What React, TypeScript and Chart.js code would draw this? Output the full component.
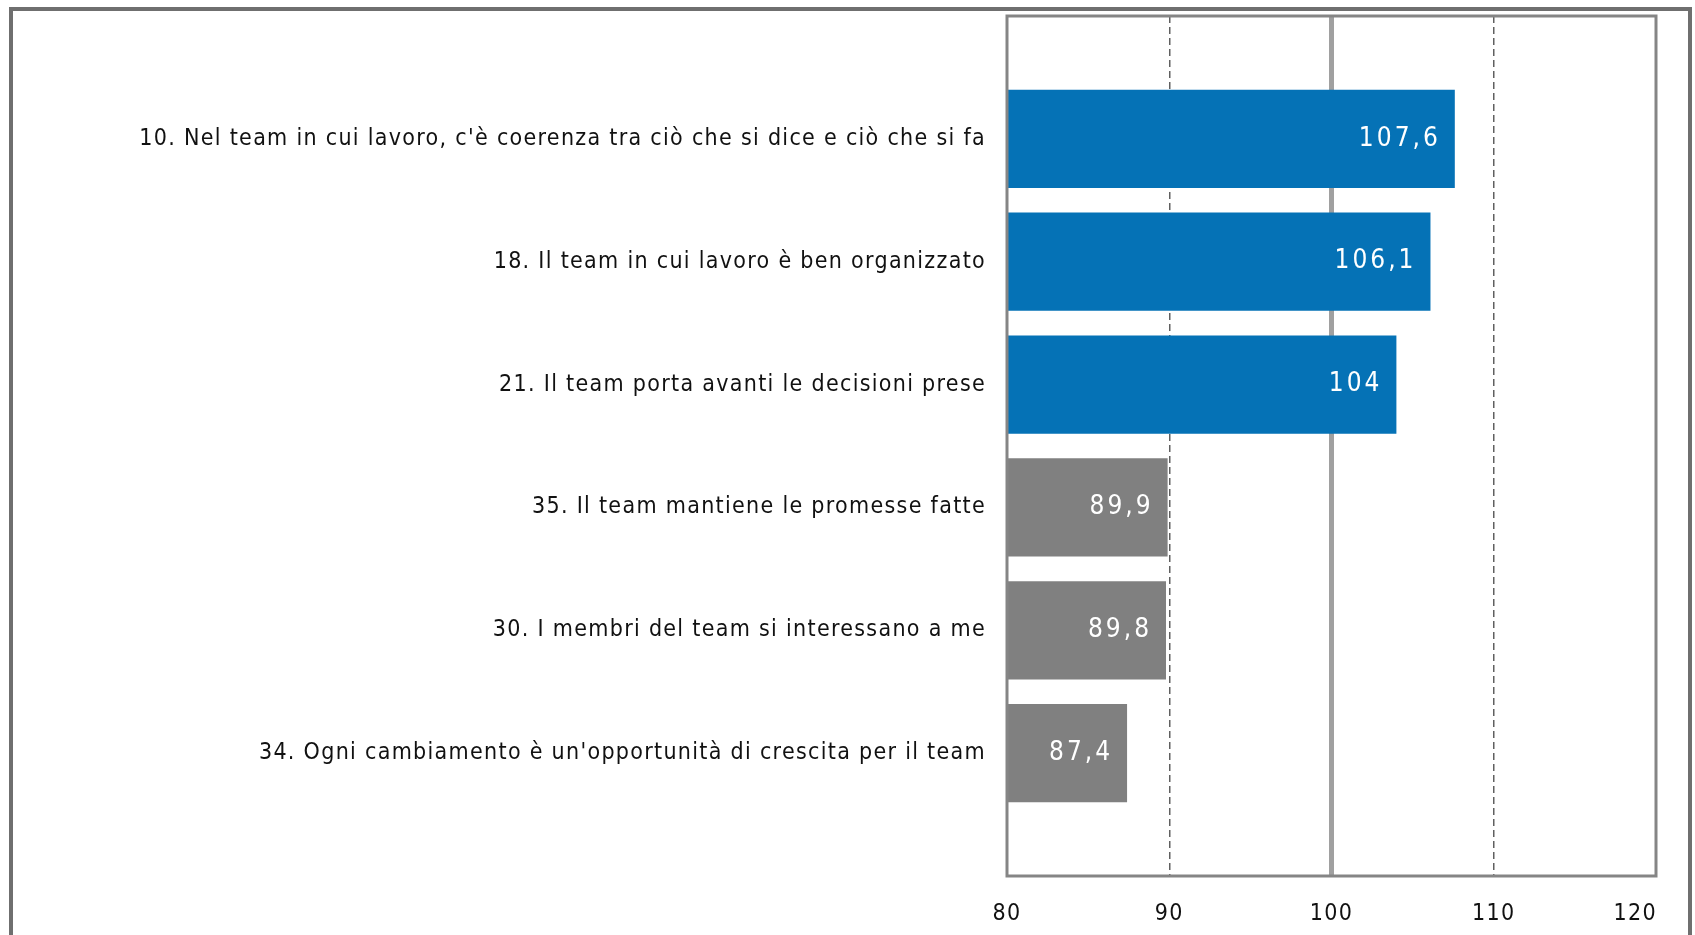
import React, { useEffect, useRef } from "react";
import { Chart, registerables } from "chart.js";

Chart.register(...registerables);

const categories: string[] = [
  "",
  "10. Nel team in cui lavoro, c'è coerenza tra ciò che si dice e ciò che si fa",
  "18. Il team in cui lavoro è ben organizzato",
  "21. Il team porta avanti le decisioni prese",
  "35. Il team mantiene le promesse fatte",
  "30. I membri del team si interessano a me",
  "34. Ogni cambiamento è un'opportunità di crescita per il team",
  "",
];

const values: (number | null)[] = [null, 107.6, 106.1, 104, 89.9, 89.8, 87.4, null];

const barColors: string[] = ["#0572B6", "#0572B6", "#0572B6", "#0572B6", "#808080", "#808080", "#808080", "#808080"];

const xTicks: number[] = [80, 90, 100, 110, 120];

const FONT = "'DejaVu Sans Condensed', 'DejaVu Sans', sans-serif";

const spacing = {
  id: "spacing",
  beforeDraw(chart: any) {
    chart.ctx.letterSpacing = "1.3px";
  },
};

const frame = {
  id: "frame",
  afterDatasetsDraw(chart: any) {
    const { ctx, chartArea } = chart;
    ctx.save();
    ctx.strokeStyle = "#858585";
    ctx.lineWidth = 3;
    ctx.strokeRect(chartArea.left, chartArea.top, chartArea.right - chartArea.left, chartArea.bottom - chartArea.top);
    ctx.restore();
  },
};

const xLabels = {
  id: "xLabels",
  afterDraw(chart: any) {
    const { ctx, chartArea } = chart;
    const scale = chart.scales.x;
    ctx.save();
    ctx.letterSpacing = "1.3px";
    ctx.fillStyle = "#111";
    ctx.font = `23px ${FONT}`;
    ctx.textBaseline = "middle";
    scale.ticks.forEach((t: any, i: number) => {
      const x = scale.getPixelForValue(t.value);
      const last = i === scale.ticks.length - 1;
      ctx.textAlign = last ? "right" : "center";
      ctx.fillText(String(t.value), last ? x + 1 : x, chartArea.bottom + 38);
    });
    ctx.restore();
  },
};

const valueLabels = {
  id: "valueLabels",
  afterDatasetsDraw(chart: any) {
    const { ctx } = chart;
    const meta = chart.getDatasetMeta(0);
    ctx.save();
    ctx.letterSpacing = "3px";
    ctx.fillStyle = "#ffffff";
    ctx.font = `26px ${FONT}`;
    ctx.textAlign = "right";
    ctx.textBaseline = "middle";
    meta.data.forEach((el: any, i: number) => {
      const v = values[i];
      if (v === null || v === undefined) return;
      ctx.fillText(String(v).replace(".", ","), el.x - 14, el.y);
    });
    ctx.restore();
  },
};

export default function App() {
  const ref = useRef<HTMLCanvasElement>(null);
  useEffect(() => {
    if (!ref.current) return;
    const chart = new Chart(ref.current, {
      type: "bar",
      data: {
        labels: categories,
        datasets: [
          {
            data: values as any,
            backgroundColor: barColors,
            borderWidth: 0,
            categoryPercentage: 1,
            barPercentage: 0.8,
          },
        ],
      },
      options: {
        indexAxis: "y",
        responsive: false,
        animation: false,
        devicePixelRatio: 1,
        layout: { padding: { top: 16, right: 39, bottom: 0, left: 0 } },
        plugins: { legend: { display: false }, tooltip: { enabled: false } },
        scales: {
          x: {
            type: "linear",
            min: xTicks[0],
            max: xTicks[xTicks.length - 1],
            afterBuildTicks: (scale: any) => {
              scale.ticks = xTicks.map((v) => ({ value: v }));
            },
            afterFit: (scale: any) => {
              scale.height = 59;
              scale.paddingLeft = 0;
              scale.paddingRight = 0;
            },
            ticks: {
              display: false,
              font: { family: FONT, size: 23 },
            },
            grid: {
              drawTicks: false,
              color: (ctx: any) => {
                const v = ctx.tick?.value;
                if (v === 100) return "#a0a0a0";
                if (v === 90 || v === 110) return "#606060";
                return "rgba(0,0,0,0)";
              },
              lineWidth: (ctx: any) => (ctx.tick?.value === 100 ? 5 : 1.5),
            },
            border: {
              display: false,
              dash: (ctx: any) => (ctx.tick?.value === 100 ? [] : [7, 4]),
            } as any,
          },
          y: {
            type: "category",
            offset: false,
            afterFit: (scale: any) => {
              scale.width = 1007;
              scale.paddingTop = 0;
              scale.paddingBottom = 0;
            },
            ticks: {
              padding: 21,
              color: "#111",
              autoSkip: false,
              font: { family: FONT, size: 23 },
            },
            grid: { display: false, drawTicks: false },
            border: { display: false },
          },
        },
      },
      plugins: [spacing, frame, valueLabels, xLabels],
    } as any);
    return () => chart.destroy();
  }, []);

  return (
    <div style={{ position: "fixed", left: 0, top: 0, width: 1695, height: 935, overflow: "hidden", background: "#fff" }}>
      <canvas ref={ref} width={1695} height={935} style={{ position: "absolute", left: 0, top: 0 }} />
      <div
        style={{
          position: "absolute",
          left: 9,
          top: 7,
          width: 1683,
          height: 1000,
          boxSizing: "border-box",
          border: "4px solid #6f6f6f",
          pointerEvents: "none",
        }}
      />
    </div>
  );
}
